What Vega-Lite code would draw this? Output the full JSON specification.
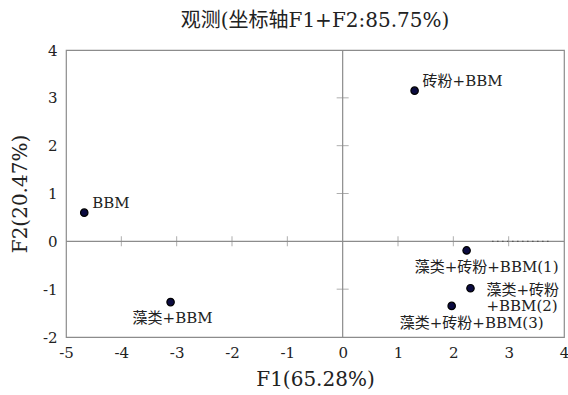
{
  "$schema": "https://vega.github.io/schema/vega-lite/v6.json",
  "autosize": "none",
  "width": 498,
  "height": 287,
  "padding": {"left": 66, "top": 50, "right": 4, "bottom": 58},
  "background": "white",
  "view": {"stroke": "#8c8c8c", "strokeWidth": 1.2, "fill": "white"},
  "config": {
    "font": "DejaVu Serif, Noto Sans CJK SC",
    "axis": {"labelFont": "DejaVu Serif", "titleFont": "DejaVu Serif, Noto Sans CJK SC", "labelColor": "#222", "titleColor": "#222", "labelFontSize": 15, "titleFontSize": 20, "titleFontWeight": "normal", "ticks": false, "domain": false, "grid": false, "format": "d", "labelFlush": false, "labelOverlap": false, "labelExpr": "replace(datum.label, '−', '-')"}
  },
  "title": {"text": "观测(坐标轴F1+F2:85.75%)", "font": "DejaVu Serif, Noto Sans CJK SC", "fontSize": 20, "fontWeight": "normal", "color": "#222", "anchor": "middle", "offset": 12},
  "datasets": {
    "pts": [
      {"F1": -4.67, "F2": 0.6, "label": "BBM", "g": "ur"},
      {"F1": -3.11, "F2": -1.27, "label": "藻类+BBM", "g": "below"},
      {"F1": 1.3, "F2": 3.15, "label": "砖粉+BBM", "g": "ur"},
      {"F1": 2.24, "F2": -0.19, "label": "藻类+砖粉+BBM(1)", "g": "belowright"},
      {"F1": 2.31, "F2": -0.98, "label": "藻类+砖粉\n+BBM(2)", "g": "right"},
      {"F1": 1.97, "F2": -1.35, "label": "藻类+砖粉+BBM(3)", "g": "belowright"}
    ],
    "xt": [{"v": -4}, {"v": -3}, {"v": -2}, {"v": -1}, {"v": 1}, {"v": 2}, {"v": 3}],
    "yt": [{"v": -1}, {"v": 1}, {"v": 2}, {"v": 3}],
    "axes": [{"x": 0, "x2": 0, "y": -2, "y2": 4}, {"x": -5, "x2": 4, "y": 0, "y2": 0}],
    "dots": [{"x": 2.7, "x2": 3.75, "y": 0}]
  },
  "layer": [
    {
      "data": {"name": "axes"},
      "mark": {"type": "rule", "color": "#8c8c8c", "strokeWidth": 1.2},
      "encoding": {
        "x": {"field": "x", "type": "quantitative", "scale": {"domain": [-5, 4], "nice": false, "padding": 0, "zero": false}, "axis": {"values": [-5, -4, -3, -2, -1, 0, 1, 2, 3, 4], "title": "F1(65.28%)", "labelPadding": 8, "titlePadding": 9}},
        "x2": {"field": "x2"},
        "y": {"field": "y", "type": "quantitative", "scale": {"domain": [-2, 4], "nice": false, "padding": 0, "zero": false}, "axis": {"values": [-2, -1, 0, 1, 2, 3, 4], "title": "F2(20.47%)", "labelPadding": 9, "titlePadding": 12}},
        "y2": {"field": "y2"}
      }
    },
    {
      "data": {"name": "dots"},
      "mark": {"type": "rule", "color": "#555", "strokeWidth": 1.2, "strokeDash": [1.5, 3.5]},
      "encoding": {"x": {"field": "x", "type": "quantitative"}, "x2": {"field": "x2"}, "y": {"field": "y", "type": "quantitative"}}
    },
    {
      "data": {"name": "xt"},
      "mark": {"type": "tick", "orient": "vertical", "color": "#8c8c8c", "size": 10, "thickness": 1},
      "encoding": {"x": {"field": "v", "type": "quantitative"}, "y": {"datum": 0, "type": "quantitative"}}
    },
    {
      "data": {"name": "yt"},
      "mark": {"type": "tick", "orient": "horizontal", "color": "#8c8c8c", "size": 12, "thickness": 1},
      "encoding": {"y": {"field": "v", "type": "quantitative"}, "x": {"datum": 0, "type": "quantitative"}}
    },
    {
      "data": {"name": "pts"},
      "mark": {"type": "point", "filled": true, "size": 55, "color": "#0b0b40", "stroke": "#000", "strokeWidth": 1.2, "opacity": 1},
      "encoding": {"x": {"field": "F1", "type": "quantitative"}, "y": {"field": "F2", "type": "quantitative"}}
    },
    {
      "data": {"name": "pts"},
      "transform": [{"filter": "datum.g === 'ur'"}],
      "mark": {"type": "text", "align": "left", "baseline": "alphabetic", "dx": 8, "dy": -5, "fontSize": 15, "color": "#222", "font": "DejaVu Serif, Noto Sans CJK SC"},
      "encoding": {"x": {"field": "F1", "type": "quantitative"}, "y": {"field": "F2", "type": "quantitative"}, "text": {"field": "label"}}
    },
    {
      "data": {"name": "pts"},
      "transform": [{"filter": "datum.g === 'below'"}],
      "mark": {"type": "text", "align": "center", "baseline": "top", "dx": 2, "dy": 9, "fontSize": 15, "color": "#222", "font": "DejaVu Serif, Noto Sans CJK SC"},
      "encoding": {"x": {"field": "F1", "type": "quantitative"}, "y": {"field": "F2", "type": "quantitative"}, "text": {"field": "label"}}
    },
    {
      "data": {"name": "pts"},
      "transform": [{"filter": "datum.g === 'belowright'"}],
      "mark": {"type": "text", "align": "center", "baseline": "top", "dx": 20, "dy": 10, "fontSize": 15, "color": "#222", "font": "DejaVu Serif, Noto Sans CJK SC"},
      "encoding": {"x": {"field": "F1", "type": "quantitative"}, "y": {"field": "F2", "type": "quantitative"}, "text": {"field": "label"}}
    },
    {
      "data": {"name": "pts"},
      "transform": [{"filter": "datum.g === 'right'"}],
      "mark": {"type": "text", "align": "left", "baseline": "middle", "dx": 16, "dy": 2, "lineBreak": "\n", "lineHeight": 16, "fontSize": 15, "color": "#222", "font": "DejaVu Serif, Noto Sans CJK SC"},
      "encoding": {"x": {"field": "F1", "type": "quantitative"}, "y": {"field": "F2", "type": "quantitative"}, "text": {"field": "label"}}
    }
  ]
}
